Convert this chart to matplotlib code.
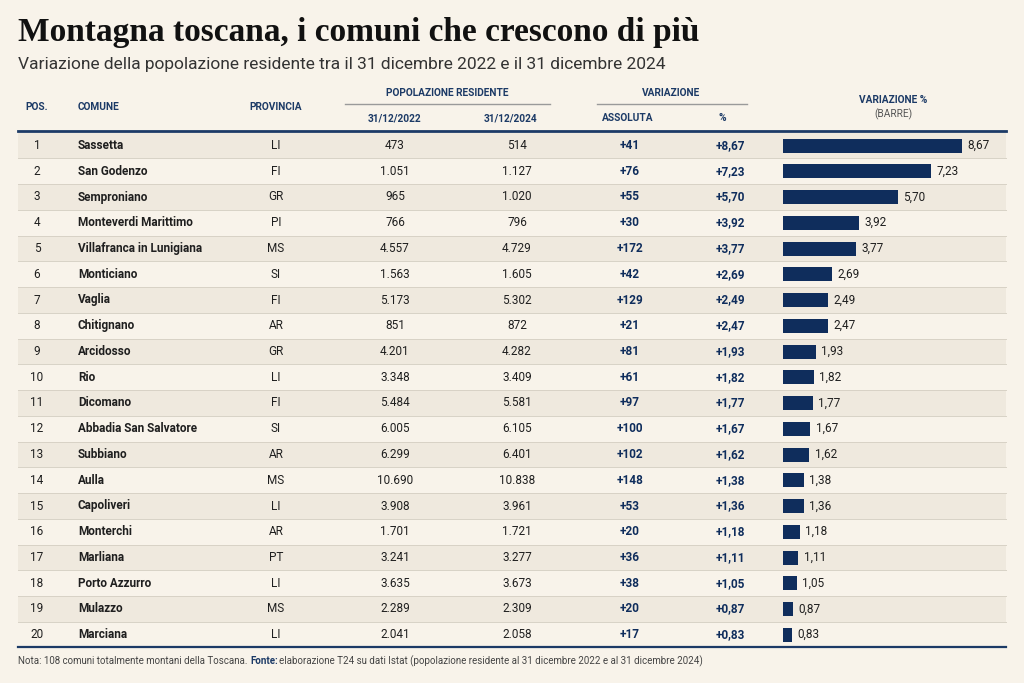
import matplotlib.pyplot as plt

comuni = ["Sassetta", "San Godenzo", "Semproniano", "Monteverdi Marittimo", "Villafranca in Lunigiana",
          "Monticiano", "Vaglia", "Chitignano", "Arcidosso", "Rio", "Dicomano", "Abbadia San Salvatore",
          "Subbiano", "Aulla", "Capoliveri", "Monterchi", "Marliana", "Porto Azzurro", "Mulazzo", "Marciana"]
province = ["LI", "FI", "GR", "PI", "MS", "SI", "FI", "AR", "GR", "LI", "FI", "SI", "AR", "MS", "LI",
            "AR", "PT", "LI", "MS", "LI"]
pop2022 = ["473", "1.051", "965", "766", "4.557", "1.563", "5.173", "851", "4.201", "3.348", "5.484",
           "6.005", "6.299", "10.690", "3.908", "1.701", "3.241", "3.635", "2.289", "2.041"]
pop2024 = ["514", "1.127", "1.020", "796", "4.729", "1.605", "5.302", "872", "4.282", "3.409", "5.581",
           "6.105", "6.401", "10.838", "3.961", "1.721", "3.277", "3.673", "2.309", "2.058"]
assoluta = [41, 76, 55, 30, 172, 42, 129, 21, 81, 61, 97, 100, 102, 148, 53, 20, 36, 38, 20, 17]
perc = [8.67, 7.23, 5.70, 3.92, 3.77, 2.69, 2.49, 2.47, 1.93, 1.82, 1.77, 1.67, 1.62, 1.38, 1.36,
        1.18, 1.11, 1.05, 0.87, 0.83]

BG = "#f8f3ea"
BAND = "#efe9de"
NAVY = "#0f2d5c"
HEAD = "#1c3a66"
TXT = "#1f1f1f"
FONT = "Roboto"

W, H = 1024, 683
fig = plt.figure(figsize=(W / 100, H / 100), dpi=100, facecolor=BG)
ax = fig.add_axes([0, 0, 1, 1])
ax.set_xlim(0, W)
ax.set_ylim(H, 0)
ax.axis("off")


def t(x, y, s, sz=8.5, c=TXT, bold=False, ha="center", fam=FONT):
    ax.text(x, y, s, fontsize=sz, color=c, fontweight="bold" if bold else "normal",
            ha=ha, va="center", fontfamily=fam)


# title
t(18, 33, "Montagna toscana, i comuni che crescono di più", sz=24, c="#111111", bold=True, ha="left",
  fam="Liberation Serif")
t(18, 64, "Variazione della popolazione residente tra il 31 dicembre 2022 e il 31 dicembre 2024",
  sz=12.5, c="#333333", ha="left")

# header
hs = 7.3
t(37, 107, "POS.", sz=hs, c=HEAD, bold=True)
t(78, 107, "COMUNE", sz=hs, c=HEAD, bold=True, ha="left")
t(276, 107, "PROVINCIA", sz=hs, c=HEAD, bold=True)
t(447, 93, "POPOLAZIONE RESIDENTE", sz=hs, c=HEAD, bold=True)
ax.plot([345, 550], [104, 104], color="#9a9a9a", lw=1)
t(395, 118, "31/12/2022", sz=hs, c=HEAD, bold=True)
t(510, 118, "31/12/2024", sz=hs, c=HEAD, bold=True)
t(671, 93, "VARIAZIONE", sz=hs, c=HEAD, bold=True)
ax.plot([597, 747], [104, 104], color="#9a9a9a", lw=1)
t(628, 118, "ASSOLUTA", sz=hs, c=HEAD, bold=True)
t(722, 118, "%", sz=hs, c=HEAD, bold=True)
t(893, 100, "VARIAZIONE %", sz=hs, c=HEAD, bold=True)
t(893, 114, "(BARRE)", sz=hs, c="#555555")
ax.plot([18, 1006], [131, 131], color=HEAD, lw=2)

y0, dy = 145.5, 25.75
ys = [y0 + i * dy for i in range(len(comuni))]
for i, y in enumerate(ys):
    if i % 2 == 0:
        ax.add_patch(plt.Rectangle((18, y - dy / 2), 988, dy, color=BAND, lw=0, zorder=0))
    if i < len(ys) - 1:
        ax.plot([18, 1006], [y + dy / 2] * 2, color="#d8d2c6", lw=0.7)
    t(37, y, str(i + 1), sz=8.5)
    t(78, y, comuni[i], sz=8.5, bold=True, ha="left")
    t(276, y, province[i], sz=8.5)
    t(395, y, pop2022[i], sz=8.5)
    t(517, y, pop2024[i], sz=8.5)
    t(630, y, f"+{assoluta[i]}", sz=8.5, c=NAVY, bold=True)
    t(730, y, "+" + f"{perc[i]:.2f}".replace(".", ","), sz=8.5, c=NAVY, bold=True)
ax.plot([18, 1006], [647, 647], color=HEAD, lw=1.6)

# bars (axis left edge starts slightly above zero, as in the original)
bx = fig.add_axes([783 / W, 0, (W - 783) / W, 1])
x_lo, ppu = 0.41, 21.7
bx.set_xlim(x_lo, x_lo + (W - 783) / ppu)
bx.set_ylim(H, 0)
bx.axis("off")
bx.barh(ys, perc, height=14, color=NAVY, left=0)
for y, v in zip(ys, perc):
    bx.text(v + 0.25, y, f"{v:.2f}".replace(".", ","), fontsize=8.5, color=TXT, va="center",
            ha="left", fontfamily=FONT)

# footer
ax.text(18, 661, "Nota: 108 comuni totalmente montani della Toscana.", fontsize=7, color="#444444",
        va="center", fontfamily=FONT)
ax.text(250, 661, "Fonte:", fontsize=7, color=HEAD, fontweight="bold", va="center", fontfamily=FONT)
ax.text(279, 661, "elaborazione T24 su dati Istat (popolazione residente al 31 dicembre 2022 e al 31 dicembre 2024)",
        fontsize=7, color="#444444", va="center", fontfamily=FONT)

fig.savefig("out.png", dpi=100, facecolor=BG)
